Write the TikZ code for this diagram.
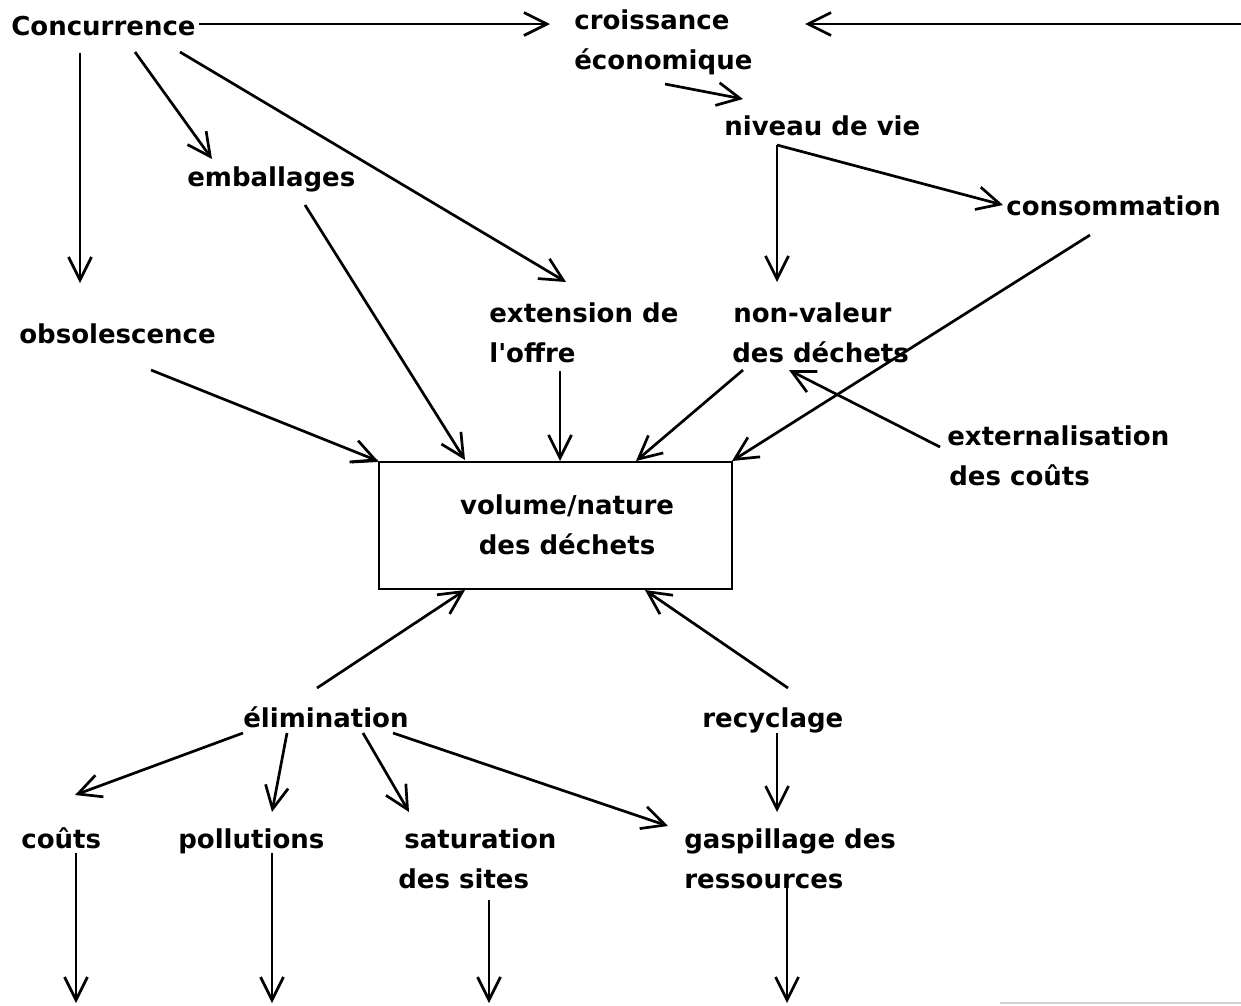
\documentclass[tikz,border=0pt]{standalone}
\usepackage{fontspec}
\setmainfont{DejaVu Sans}[Ligatures=TeXOff]
\usetikzlibrary{arrows.meta}
% two left-aligned lines, baseline on the first one
\newcommand\twolines[2]{\begin{tabular}[t]{@{}l@{}}#1\\#2\end{tabular}}
\newcommand\twocentred[2]{\begin{tabular}[t]{@{}c@{}}#1\\#2\end{tabular}}

\begin{document}
\begin{tikzpicture}[x=1pt,y=-1pt,
  lbl/.style={anchor=base west, inner sep=0pt, font=\fontsize{26}{40}\selectfont\bfseries},
  arr/.style={-{Straight Barb[length=23pt,width=23pt]}, line width=2.7pt},
  line width=2.7pt]
\useasboundingbox (0,0) rectangle (1241,1005);

% ---- labels ----
\node[lbl] (conc)   at (10,35)   {Concurrence};
\node[lbl] (crois)  at (573,29)  {\twolines{croissance}{économique}};
\node[lbl] (niv)    at (723,135) {niveau de vie};
\node[lbl] (conso)  at (1005,215){consommation};
\node[lbl] (emb)    at (186,186) {emballages};
\node[lbl] (obs)    at (18,343)  {obsolescence};
\node[lbl] (ext)    at (488,322) {\twolines{extension de}{l'offre}};
\node[lbl] (nonval) at (731,322) {\twolines{\kern1pt non-valeur}{des déchets}};
\node[lbl] (extern) at (946,445) {\twolines{externalisation}{\kern2pt des coûts}};
\node[lbl] (elim)   at (242,727) {élimination};
\node[lbl] (recyc)  at (701,727) {recyclage};
\node[lbl] (couts)  at (20,848)  {coûts};
\node[lbl] (poll)   at (177,848) {pollutions};
\node[lbl] (satur)  at (397,848) {\twolines{\kern6pt saturation}{des sites}};
\node[lbl] (gasp)   at (683,848) {\twolines{gaspillage des}{ressources}};

% ---- central box ----
\node[draw, line width=2.7pt, minimum width=353pt, minimum height=127pt, inner sep=0pt]
  (box) at (555.5,525.5) {};
\node[lbl, anchor=base] (boxtxt) at (567,514) {\twocentred{volume/nature}{des déchets}};
\coordinate (stub) at (352,462);
\draw (stub) -- (box.north west);

% ---- connector end points ----
\coordinate (c1) at (199,24);   \coordinate (c1e) at (550,24);
\coordinate (r0) at (1241,24);  \coordinate (r0e) at (805,24);
\coordinate (c2) at (80,53);    \coordinate (c2e) at (80,283);
\coordinate (c3) at (135,52);   \coordinate (c3e) at (212,159);
\coordinate (c4) at (180,52);   \coordinate (c4e) at (566,282);
\coordinate (e1) at (665,84);   \coordinate (e1e) at (743,99);
\coordinate (nv) at (777,145);  \coordinate (nvd) at (777,282);
\coordinate (nvc) at (1003,205);
\coordinate (cs) at (1090,235); \coordinate (cse) at (732,461);
\coordinate (ob) at (151,370);  \coordinate (obe) at (378,461);
\coordinate (em) at (305,205);  \coordinate (eme) at (465,460);
\coordinate (of) at (560,371);  \coordinate (ofe) at (560,461);
\coordinate (dv) at (743,370);  \coordinate (dve) at (636,461);
\coordinate (xt) at (940,447);  \coordinate (xte) at (789,370);
\coordinate (el) at (317,688);  \coordinate (ele) at (465,590);
\coordinate (rc) at (788,688);  \coordinate (rce) at (645,590);
\coordinate (el1) at (243,733); \coordinate (el1e) at (75,795);
\coordinate (el2) at (287,733); \coordinate (el2e) at (272,812);
\coordinate (el3) at (363,733); \coordinate (el3e) at (409,812);
\coordinate (el4) at (393,733); \coordinate (el4e) at (668,826);
\coordinate (rc1) at (777,733); \coordinate (rc1e) at (777,812);
\coordinate (d1) at (76,853);   \coordinate (d1e) at (76,1003);
\coordinate (d2) at (272,853);  \coordinate (d2e) at (272,1003);
\coordinate (d3) at (489,900);  \coordinate (d3e) at (489,1003);
\coordinate (d4) at (787,883);  \coordinate (d4e) at (787,1003);

% ---- connectors ----
\draw[arr] (c1) -- (c1e);
\draw[arr] (r0) -- (r0e);
\draw[arr] (c2) -- (c2e);
\draw[arr] (c3) -- (c3e);
\draw[arr] (c4) -- (c4e);
\draw[arr] (e1) -- (e1e);
\draw[arr] (nv) -- (nvd);
\draw[arr] (nv) -- (nvc);
\draw[arr] (cs) -- (cse);
\draw[arr] (ob) -- (obe);
\draw[arr] (em) -- (eme);
\draw[arr] (of) -- (ofe);
\draw[arr] (dv) -- (dve);
\draw[arr] (xt) -- (xte);
\draw[arr] (el) -- (ele);
\draw[arr] (rc) -- (rce);
\draw[arr] (el1) -- (el1e);
\draw[arr] (el2) -- (el2e);
\draw[arr] (el3) -- (el3e);
\draw[arr] (el4) -- (el4e);
\draw[arr] (rc1) -- (rc1e);
\draw[arr] (d1) -- (d1e);
\draw[arr] (d2) -- (d2e);
\draw[arr] (d3) -- (d3e);
\draw[arr] (d4) -- (d4e);

% faint rule at the lower right edge
\coordinate (g0) at (1000,1003); \coordinate (g1) at (1241,1003);
\draw[gray!35, line width=1.5pt] (g0) -- (g1);
\end{tikzpicture}
\end{document}
